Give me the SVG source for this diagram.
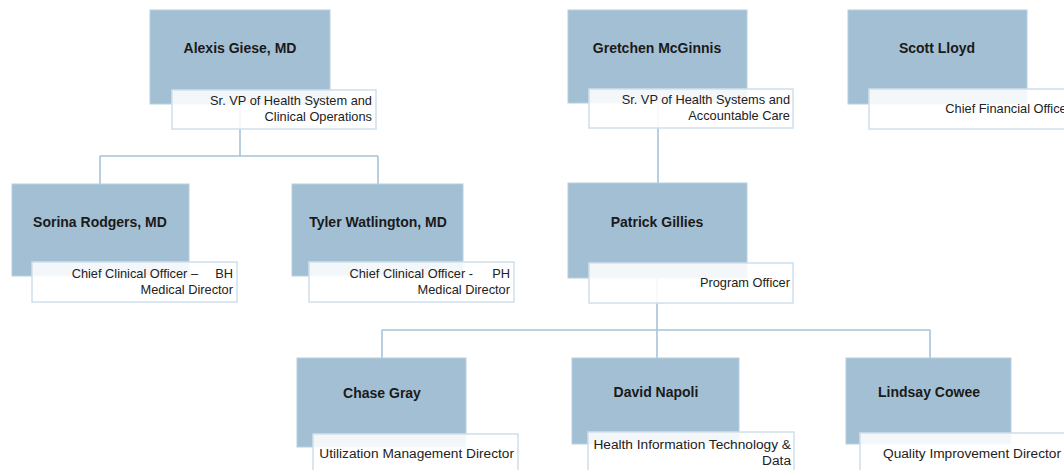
<svg xmlns="http://www.w3.org/2000/svg" width="1064" height="470" viewBox="0 0 1064 470">
<style>
.bg{fill:#ffffff}
.card{fill:#a3bfd4;stroke:#b8cfe0;stroke-width:1}
.tag{fill:#ffffff;fill-opacity:0.88;stroke:#d0e0ec;stroke-width:1.5}
.name{font-family:"Liberation Sans",Arial,sans-serif;font-weight:bold;font-size:14px;fill:#1a1a1a;text-anchor:middle}
.role{font-family:"Liberation Sans",Arial,sans-serif;font-size:12.8px;fill:#222222;text-anchor:end}
.big{font-size:13.7px}
.conn{fill:none;stroke:#a8c3d7;stroke-width:1.6}
</style>
<rect class="bg" x="0" y="0" width="1064" height="470"/>
<g id="connectors">
<path class="conn" d="M240 104 V156 M100 156 H378 M100 156 V184 M378 156 V184"/>
<path class="conn" d="M658 103 V183"/>
<path class="conn" d="M657 278 V330 M382 330 H930 M382 330 V358 M657 330 V358 M930 330 V358"/>
</g>
<g id="alexis">
<rect class="card" x="150" y="10" width="180" height="94"/>
<text class="name" x="240" y="53">Alexis Giese, MD</text>
<rect class="tag" x="172" y="90" width="204" height="39"/>
<text class="role" x="372" y="105">Sr. VP of Health System and</text>
<text class="role" x="372" y="121">Clinical Operations</text>
</g>
<g id="gretchen">
<rect class="card" x="568" y="10" width="179" height="93"/>
<text class="name" x="657" y="53">Gretchen McGinnis</text>
<rect class="tag" x="589" y="89" width="204" height="39"/>
<text class="role" x="790" y="104">Sr. VP of Health Systems and</text>
<text class="role" x="790" y="120">Accountable Care</text>
</g>
<g id="scott">
<rect class="card" x="848" y="10" width="179" height="94"/>
<text class="name" x="937" y="53">Scott Lloyd</text>
<rect class="tag" x="869" y="89" width="206" height="40"/>
<text class="role" x="1071" y="113">Chief Financial Officer</text>
</g>
<g id="sorina">
<rect class="card" x="12" y="184" width="177" height="92"/>
<text class="name" x="100" y="227">Sorina Rodgers, MD</text>
<rect class="tag" x="32" y="262" width="205" height="40"/>
<text class="role" y="278"><tspan x="198">Chief Clinical Officer –</tspan><tspan x="233">BH</tspan></text>
<text class="role" x="233" y="294">Medical Director</text>
</g>
<g id="tyler">
<rect class="card" x="292" y="184" width="171" height="92"/>
<text class="name" x="378" y="227">Tyler Watlington, MD</text>
<rect class="tag" x="309" y="262" width="205" height="40"/>
<text class="role" y="278"><tspan x="473">Chief Clinical Officer -</tspan><tspan x="510">PH</tspan></text>
<text class="role" x="510" y="294">Medical Director</text>
</g>
<g id="patrick">
<rect class="card" x="568" y="183" width="179" height="95"/>
<text class="name" x="657" y="227">Patrick Gillies</text>
<rect class="tag" x="589" y="263" width="204" height="40"/>
<text class="role" x="790" y="287">Program Officer</text>
</g>
<g id="chase">
<rect class="card" x="297" y="358" width="169" height="89"/>
<text class="name" x="382" y="398">Chase Gray</text>
<rect class="tag" x="313" y="434" width="205" height="40"/>
<text class="role big" x="514" y="458">Utilization Management Director</text>
</g>
<g id="david">
<rect class="card" x="572" y="358" width="167" height="86"/>
<text class="name" x="656" y="397">David Napoli</text>
<rect class="tag" x="588" y="432" width="206" height="40"/>
<text class="role big" x="791" y="449">Health Information Technology &amp;</text>
<text class="role big" x="791" y="465">Data</text>
</g>
<g id="lindsay">
<rect class="card" x="846" y="358" width="165" height="86"/>
<text class="name" x="929" y="397">Lindsay Cowee</text>
<rect class="tag" x="860" y="433" width="206" height="40"/>
<text class="role big" x="1061" y="458">Quality Improvement Director</text>
</g>
</svg>
